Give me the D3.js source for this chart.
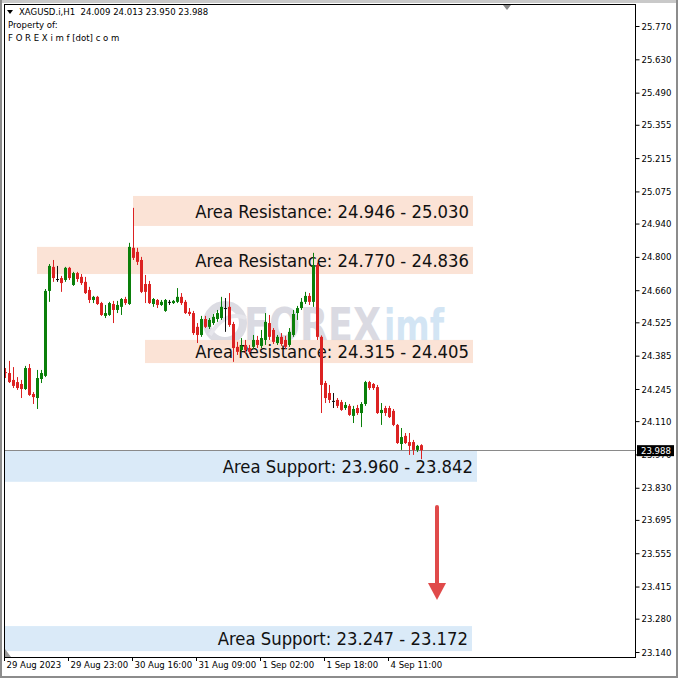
<!DOCTYPE html>
<html><head><meta charset="utf-8">
<script src="https://cdn.jsdelivr.net/npm/d3@7"></script>
<style>
html,body{margin:0;padding:0;background:#fff;}
svg{display:block;}
</style></head><body>
<svg id="c" width="678" height="678"></svg>
<script>
// ---------------- DATA ----------------
const symbolName = "XAGUSD.i,H1";
const lastOHLC = [24.009, 24.013, 23.950, 23.988];
const headerLines = ["Property of:", "F O R E X i m f [dot] c o m"];

const opens = [24.316,24.312,24.283,24.274,24.266,24.245,24.333,24.224,24.207,24.287,
24.300,24.657,24.758,24.707,24.711,24.703,24.754,24.682,24.732,24.716,
24.695,24.661,24.619,24.632,24.606,24.552,24.556,24.602,24.577,24.590,
24.623,24.602,24.838,24.821,24.787,24.686,24.686,24.602,24.619,24.598,
24.573,24.611,24.606,24.611,24.632,24.611,24.569,24.564,24.506,24.472,
24.539,24.506,24.522,24.539,24.543,24.585,24.590,24.518,24.422,24.409,
24.430,24.417,24.422,24.451,24.426,24.451,24.522,24.493,24.438,24.464,
24.451,24.430,24.472,24.564,24.585,24.611,24.636,24.611,24.766,24.464,
24.270,24.228,24.195,24.199,24.190,24.165,24.174,24.132,24.165,24.144,
24.182,24.274,24.266,24.253,24.144,24.165,24.165,24.153,24.094,24.014,
24.048,24.022,24.022,23.989,24.009];
const highs = [24.333,24.363,24.337,24.295,24.283,24.342,24.350,24.232,24.325,24.325,
24.665,24.770,24.787,24.762,24.720,24.758,24.758,24.737,24.737,24.728,
24.716,24.674,24.636,24.636,24.611,24.598,24.611,24.615,24.615,24.627,
24.632,24.859,25.006,24.838,24.800,24.724,24.699,24.627,24.623,24.619,
24.623,24.619,24.619,24.669,24.648,24.619,24.585,24.573,24.522,24.552,
24.552,24.543,24.560,24.577,24.632,24.627,24.648,24.527,24.443,24.459,
24.451,24.430,24.472,24.468,24.493,24.564,24.556,24.501,24.472,24.480,
24.468,24.501,24.577,24.594,24.627,24.653,24.648,24.817,24.775,24.470,
24.279,24.262,24.228,24.207,24.199,24.190,24.182,24.174,24.178,24.190,
24.279,24.279,24.270,24.262,24.186,24.174,24.174,24.161,24.098,24.081,
24.060,24.060,24.031,24.010,24.013];
const lows = [24.291,24.270,24.249,24.241,24.207,24.241,24.216,24.182,24.161,24.270,
24.295,24.611,24.695,24.695,24.653,24.695,24.703,24.678,24.695,24.682,
24.644,24.606,24.606,24.598,24.552,24.543,24.552,24.522,24.564,24.556,
24.598,24.598,24.787,24.766,24.648,24.606,24.602,24.590,24.585,24.594,
24.569,24.598,24.602,24.606,24.598,24.560,24.552,24.472,24.438,24.464,
24.501,24.497,24.514,24.527,24.535,24.485,24.506,24.359,24.388,24.401,
24.396,24.392,24.413,24.417,24.417,24.430,24.451,24.434,24.430,24.426,
24.413,24.422,24.464,24.535,24.577,24.602,24.598,24.590,24.451,24.144,
24.186,24.186,24.165,24.165,24.153,24.157,24.132,24.102,24.136,24.085,
24.174,24.241,24.241,24.140,24.094,24.132,24.123,24.089,24.014,23.989,
24.014,23.968,23.968,23.980,23.950];
const closes = [24.312,24.274,24.258,24.249,24.245,24.333,24.220,24.211,24.291,24.312,
24.657,24.762,24.711,24.707,24.690,24.754,24.711,24.732,24.707,24.690,
24.648,24.619,24.632,24.602,24.556,24.564,24.606,24.577,24.598,24.623,
24.606,24.842,24.796,24.779,24.653,24.653,24.606,24.623,24.598,24.611,
24.619,24.611,24.615,24.632,24.606,24.564,24.560,24.480,24.472,24.539,
24.506,24.535,24.548,24.564,24.590,24.585,24.514,24.417,24.401,24.426,
24.409,24.401,24.451,24.430,24.459,24.527,24.464,24.443,24.464,24.434,
24.422,24.485,24.560,24.585,24.611,24.636,24.611,24.766,24.464,24.262,
24.207,24.199,24.195,24.174,24.157,24.178,24.136,24.161,24.144,24.182,
24.274,24.249,24.249,24.144,24.157,24.144,24.127,24.094,24.018,24.043,
24.018,24.006,23.989,24.006,23.988];

const timeLabels = ["29 Aug 2023","29 Aug 23:00","30 Aug 16:00","31 Aug 09:00","1 Sep 02:00","1 Sep 18:00","4 Sep 11:00"];
const timeLabelBars = [0,16,32,48,64,80,96];

const priceTicks = [25.770,25.630,25.490,25.355,25.215,25.075,24.940,24.800,24.660,24.525,
24.385,24.245,24.110,23.970,23.830,23.695,23.555,23.415,23.280,23.140];

const zoneLabels = ["Area Resistance: 24.946 - 25.030","Area Resistance: 24.770 - 24.836",
"Area Resistance: 24.315 - 24.405","Area Support: 23.960 - 23.842","Area Support: 23.247 - 23.172"];
const zoneKinds = ["res","res","res","sup","sup"];
const zoneStartBar = [32, 8, 35, -1, -1];
const zoneEndBar = [117, 117, 117, 118, 116.75];
const zoneTop = [25.056, 24.842, 24.451, 23.985, 23.249];
const zoneBottom = [24.930, 24.728, 24.354, 23.855, 23.144];

const arrowBar = 108;
const arrowFrom = 23.749;
const arrowTo = 23.358;

// ---------------- CHART ----------------
const W = 678, H = 678;
const plot = {l:4, t:4, r:635, b:657};
const svg = d3.select("#c");
const font = "'DejaVu Sans Condensed','DejaVu Sans',sans-serif";

const x = d3.scaleLinear().domain([0, opens.length-1]).range([5, 421]);
const y = d3.scaleLinear().domain([23.140, 25.770]).range([652, 26]);

// outer frame
svg.append("rect").attr("width",W).attr("height",H).attr("fill","#fff");
svg.append("rect").attr("x",0).attr("y",0).attr("width",W).attr("height",3).attr("fill","#c9c9c9");
svg.append("rect").attr("x",0).attr("y",0).attr("width",2).attr("height",H).attr("fill","#8c8c8c");
svg.append("rect").attr("x",W-2).attr("y",0).attr("width",2).attr("height",H).attr("fill","#8c8c8c");
svg.append("rect").attr("x",0).attr("y",H-2).attr("width",W).attr("height",2).attr("fill","#8c8c8c");

const defs = svg.append("defs");
defs.append("clipPath").attr("id","pc").append("rect")
  .attr("x",plot.l).attr("y",plot.t).attr("width",plot.r-plot.l).attr("height",plot.b-plot.t);

const g = svg.append("g").attr("clip-path","url(#pc)");

// watermark
const wm = g.append("g");
wm.append("circle").attr("cx",225).attr("cy",323).attr("r",18).attr("fill","none")
  .attr("stroke","#dcdce3").attr("stroke-width",8);
wm.append("path").attr("d","M210,335 Q225,310 246,318").attr("fill","none")
  .attr("stroke","#e6e6ec").attr("stroke-width",4);
wm.append("text").attr("x",244).attr("y",341).attr("font-family","'DejaVu Sans',sans-serif")
  .attr("font-weight","bold").attr("font-size",47).attr("textLength",137)
  .attr("lengthAdjust","spacingAndGlyphs").attr("fill","#dadae2").text("FOREX");
wm.append("text").attr("x",384).attr("y",341).attr("font-family","'DejaVu Sans',sans-serif")
  .attr("font-weight","bold").attr("font-size",44).attr("textLength",60)
  .attr("lengthAdjust","spacingAndGlyphs").attr("fill","#d3e5f4").text("imf");

// zones
zoneLabels.forEach((lab, i) => {
  const x0 = zoneStartBar[i] < 0 ? plot.l : x(zoneStartBar[i]);
  const x1 = x(zoneEndBar[i]);
  const y0 = y(zoneTop[i]), y1 = y(zoneBottom[i]);
  g.append("rect").attr("x",x0).attr("y",y0).attr("width",x1-x0).attr("height",y1-y0)
    .attr("fill", zoneKinds[i]==="res" ? "#fbe1d3" : "#d7e8f8").attr("fill-opacity",0.93);
});
zoneLabels.forEach((lab, i) => {
  const x1 = x(zoneEndBar[i]);
  const yc = (y(zoneTop[i]) + y(zoneBottom[i]))/2;
  g.append("text").attr("x", x1-4).attr("y", yc).attr("dy","0.36em")
    .attr("text-anchor","end").attr("font-family",font).attr("font-size",18.3)
    .attr("fill","#111").text(lab);
});

// current price line
g.append("line").attr("x1",plot.l).attr("x2",plot.r)
  .attr("y1",Math.round(y(lastOHLC[3]))+0.5).attr("y2",Math.round(y(lastOHLC[3]))+0.5)
  .attr("stroke","#8a8a8a").attr("stroke-width",1);

// candles
const bars = d3.range(opens.length);
const col = i => closes[i] > opens[i] ? "#0a7f0a" : (closes[i] < opens[i] ? "#dc2222" : "#111");
const cg = g.append("g");
cg.selectAll("line.w").data(bars).join("line")
  .attr("x1", i => Math.round(x(i))+0.5).attr("x2", i => Math.round(x(i))+0.5)
  .attr("y1", i => y(highs[i])).attr("y2", i => y(lows[i]))
  .attr("stroke", col).attr("stroke-width",1);
cg.selectAll("rect.b").data(bars).join("rect")
  .attr("x", i => Math.round(x(i))-1).attr("width",3)
  .attr("y", i => Math.min(y(opens[i]), y(closes[i])))
  .attr("height", i => Math.max(1, Math.abs(y(opens[i]) - y(closes[i]))))
  .attr("fill", col);

// arrow
const ax = x(arrowBar), ay0 = y(arrowFrom), ay1 = y(arrowTo);
g.append("line").attr("x1",ax).attr("x2",ax).attr("y1",ay0).attr("y2",ay1-14)
  .attr("stroke","#e04a4a").attr("stroke-width",4).attr("stroke-linecap","round");
g.append("path").attr("d",`M${ax-9},${ay1-17} L${ax+9},${ay1-17} L${ax},${ay1} Z`).attr("fill","#e04a4a");

// plot border
svg.append("rect").attr("x",plot.l+0.5).attr("y",plot.t+0.5)
  .attr("width",plot.r-plot.l).attr("height",plot.b-plot.t)
  .attr("fill","none").attr("stroke","#000").attr("stroke-width",1);

// top marker triangle
svg.append("path").attr("d","M503,5 L511,5 L507,10 Z").attr("fill","#8a8a8a");
// bottom-left shift marker
svg.append("path").attr("d","M5,649 L5,657 L11,657 Z").attr("fill","#9a9a9a");

// header text
const hdr = svg.append("g").attr("font-family",font).attr("font-size",9.5).attr("fill","#000");
hdr.append("path").attr("d","M7,10 L13,10 L10,14 Z").attr("fill","#000");
hdr.append("text").attr("x",19).attr("y",15).attr("xml:space","preserve")
  .style("white-space","pre")
  .text(symbolName + "\u00a0\u00a0" + lastOHLC.map(v=>v.toFixed(3)).join(" "));
headerLines.forEach((t,i) => hdr.append("text").attr("x",8).attr("y",28+i*12.5).text(t));

// right price axis
const yAxis = d3.axisRight(y).tickValues(priceTicks).tickSize(4).tickPadding(2)
  .tickFormat(d3.format(".3f"));
const ya = svg.append("g").attr("transform",`translate(${plot.r+0.5},0)`).call(yAxis);
ya.select(".domain").remove();
ya.selectAll("text").attr("font-family",font).attr("font-size",9.5).attr("fill","#000");
ya.selectAll("line").attr("stroke","#000");

// current price label
const ly = y(lastOHLC[3]);
svg.append("rect").attr("x",637).attr("y",ly-5).attr("width",37).attr("height",11).attr("fill","#000");
svg.append("text").attr("x",641).attr("y",ly).attr("dy","0.36em").attr("font-family",font)
  .attr("font-size",9.5).attr("fill","#fff").text(lastOHLC[3].toFixed(3));

// bottom time axis
const xa = svg.append("g");
timeLabelBars.forEach((b,i) => {
  const tx = Math.round(x(b)) - 0.5;
  xa.append("line").attr("x1",tx).attr("x2",tx).attr("y1",plot.b).attr("y2",plot.b+4).attr("stroke","#000");
  xa.append("text").attr("x",tx+2).attr("y",plot.b+8).attr("dy","0.36em")
    .attr("font-family",font).attr("font-size",9.5).attr("fill","#000").text(timeLabels[i]);
});
</script>
</body></html>
